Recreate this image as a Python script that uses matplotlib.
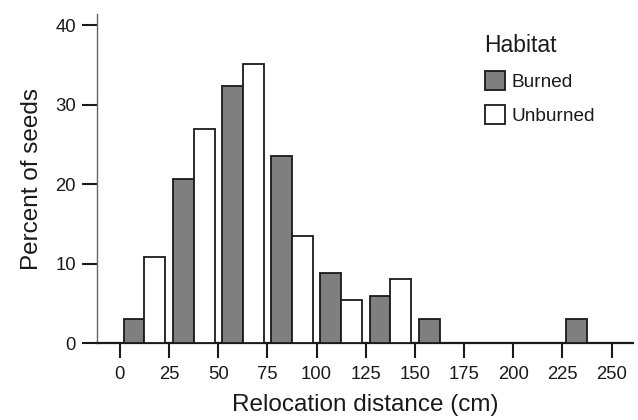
import matplotlib
matplotlib.use("Agg")
import matplotlib.pyplot as plt
import numpy as np

plt.rcParams['font.family'] = ['Liberation Sans', 'DejaVu Sans']

bin_starts = [0, 25, 50, 75, 100, 125, 150, 175, 200, 225]
burned = [3.0, 20.6, 32.4, 23.6, 8.9, 5.9, 3.0, 0.0, 0.0, 3.0]
unburned = [10.8, 27.0, 35.1, 13.5, 5.4, 8.1, 0.0, 0.0, 0.0, 0.0]
xticks = [0, 25, 50, 75, 100, 125, 150, 175, 200, 225, 250]
yticks = [0, 10, 20, 30, 40]

fig = plt.figure(figsize=(6.38, 4.2), dpi=100)
ax = fig.add_axes([0.1528, 0.1826, 0.992 - 0.1528, 0.9667 - 0.1826])

centers = np.array(bin_starts) + 12.5
w = 10.6
ax.bar(centers - w / 2, burned, width=w, color='#7f7f7f', edgecolor='#1a1a1a',
       linewidth=1.3, label='Burned', zorder=3)
ax.bar(centers + w / 2, unburned, width=w, color='white', edgecolor='#1a1a1a',
       linewidth=1.3, label='Unburned', zorder=3)

ax.set_xlim(-11.4, 260.8)
ax.set_ylim(0, 41.4)
ax.set_xticks(xticks)
ax.set_yticks(yticks)

for s in ['top', 'right']:
    ax.spines[s].set_visible(False)
ax.spines['left'].set_color('#666666')
ax.spines['left'].set_linewidth(1.0)
ax.spines['bottom'].set_color('#1a1a1a')
ax.spines['bottom'].set_linewidth(1.6)

ax.tick_params(axis='both', direction='out', length=10.5, width=1.5,
               color='#1a1a1a', labelsize=13.3, labelcolor='#1a1a1a')
ax.tick_params(axis='x', pad=6)
ax.tick_params(axis='y', pad=5)

ax.set_xlabel('Relocation distance (cm)', fontsize=17.5, color='#1a1a1a', labelpad=8)
ax.set_ylabel('Percent of seeds', fontsize=17.5, color='#1a1a1a', labelpad=9)

leg = ax.legend(title='Habitat', loc='upper left', bbox_to_anchor=(0.7595, 0.918),
                bbox_transform=fig.transFigure, frameon=False, fontsize=13.7,
                title_fontsize=16.5, handlelength=1.1, handleheight=1.15,
                handletextpad=0.3, labelspacing=0.72, alignment='left',
                borderpad=0, borderaxespad=0)
for t in leg.get_texts():
    t.set_color('#1a1a1a')
leg.get_title().set_color('#1a1a1a')

fig.savefig('out.png', dpi=100)
